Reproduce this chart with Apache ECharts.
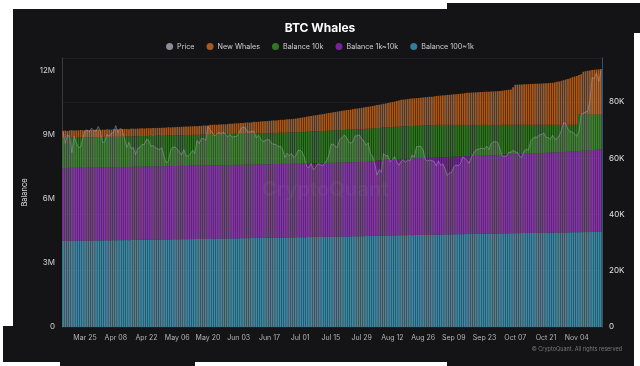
<!DOCTYPE html>
<html><head><meta charset="utf-8">
<script src="https://cdn.jsdelivr.net/npm/echarts/dist/echarts.min.js"></script>
<style>
html,body{margin:0;padding:0;background:#fff;width:640px;height:366px;overflow:hidden;position:relative}
.bg{position:absolute;background:#141416}
#c{position:absolute;left:0;top:0;width:640px;height:366px}
</style></head><body>
<div class="bg" style="left:13px;top:9px;width:621px;height:353px"></div>
<div class="bg" style="left:447px;top:3px;width:193px;height:30px"></div>
<div class="bg" style="left:3px;top:326px;width:192px;height:36px"></div>
<div class="bg" style="left:60px;top:360px;width:135px;height:6px"></div>
<div class="bg" style="left:447px;top:360px;width:187px;height:6px"></div>
<div id="c"></div>
<script>
// Daily categories: 2024-03-15 .. 2024-11-15
const startDate = Date.UTC(2024, 2, 15);
const dayCount = 246;
const monthNames = ['Jan','Feb','Mar','Apr','May','Jun','Jul','Aug','Sep','Oct','Nov','Dec'];
const dates = [];
for (let i = 0; i < dayCount; i++) {
  const d = new Date(startDate + i * 86400000);
  dates.push(monthNames[d.getUTCMonth()] + ' ' + String(d.getUTCDate()).padStart(2, '0'));
}
const legendNames = ['Price', 'New Whales', 'Balance 10k', 'Balance 1k~10k', 'Balance 100~1k'];
const leftTicks = ['0', '3M', '6M', '9M', '12M'];
const rightTicks = ['0', '20K', '40K', '60K', '80K'];

// values in thousand BTC
const bal100to1k = [
4030,4032,4028,4035,4040,4038,4036,4042,4045,4043,4040,4046,4050,4048,4052,4055,4053,
4050,4055,4058,4060,4057,4062,4065,4063,4060,4066,4068,4070,4072,4069,4074,4078,4080,4077,4082,4085,4083,4086,4088,4090,4087,4092,4094,4096,4093,4098,
4100,4104,4102,4106,4108,4105,4110,4112,4114,4110,4116,4118,4120,4117,4122,4125,4123,4128,4130,4127,4132,4135,4133,4138,4140,4137,4142,4145,4143,4148,4150,
4152,4150,4155,4158,4156,4160,4162,4160,4165,4168,4166,4170,4172,4170,4175,4178,4176,4180,4183,4181,4185,4188,4186,4190,4193,4190,4195,4198,4196,4200,
4202,4205,4203,4208,4212,4210,4215,4218,4216,4220,4224,4222,4226,4230,4228,4232,4235,4233,4238,4240,4238,4242,4245,4243,4248,4250,4248,4252,4255,4253,4258,
4260,4263,4268,4272,4280,4278,4282,4285,4283,4288,4290,4288,4292,4295,4293,4298,4300,4298,4302,4305,4303,4308,4310,4308,4312,4315,4313,4318,4320,4318,4322,
4325,4328,4326,4330,4335,4340,4338,4342,4345,4343,4348,4350,4348,4352,4355,4353,4358,4360,4358,4362,4365,4363,4368,4370,4368,4372,4375,4373,4378,4380,
4382,4385,4383,4388,4390,4388,4392,4395,4393,4398,4400,4398,4402,4405,4403,4408,4410,4408,4412,4415,4413,4418,4420,4418,4422,4425,4423,4428,4430,4428,4432,
4435,4438,4436,4440,4442,4440,4445,4448,4446,4450,4452,4450,4455,4458,4460];
const bal1kto10k = [
3420,3418,3422,3420,3419,3423,3421,3420,3424,3422,3421,3425,3423,3422,3426,3424,3423,
3422,3425,3424,3423,3426,3425,3424,3427,3426,3425,3428,3427,3426,3429,3428,3427,3430,3429,3428,3431,3430,3429,3432,3431,3430,3433,3432,3431,3434,3433,
3432,3435,3434,3433,3436,3435,3434,3437,3436,3435,3438,3437,3436,3439,3438,3437,3440,3439,3438,3441,3440,3439,3442,3441,3440,3443,3442,3441,3444,3443,3442,
3445,3444,3443,3446,3445,3444,3447,3446,3445,3448,3447,3446,3449,3448,3447,3450,3449,3448,3451,3450,3449,3452,3451,3450,3453,3452,3451,3454,3453,3452,
3455,3454,3453,3456,3455,3454,3457,3456,3455,3458,3457,3456,3459,3458,3460,3462,3461,3463,3465,3464,3466,3468,3467,3469,3471,3470,3472,3474,3473,3475,3477,
3480,3485,3490,3500,3510,3520,3530,3540,3548,3555,3560,3565,3570,3572,3575,3578,3580,3582,3585,3587,3590,3592,3594,3596,3598,3600,3602,3604,3606,3608,3610,
3612,3614,3616,3618,3620,3622,3625,3628,3630,3632,3635,3638,3640,3642,3645,3648,3650,3652,3655,3658,3660,3662,3665,3668,3670,3672,3675,3678,3680,3682,
3685,3688,3690,3693,3696,3699,3702,3705,3708,3711,3714,3717,3720,3723,3726,3729,3732,3735,3738,3741,3744,3747,3750,3753,3756,3759,3762,3765,3768,3771,3774,
3780,3786,3792,3798,3804,3810,3816,3822,3828,3834,3840,3846,3852,3858,3864];
const bal10k = [
1410,1415,1408,1412,1418,1414,1410,1416,1420,1415,1412,1418,1422,1417,1414,1420,1424,
1420,1416,1422,1426,1421,1418,1424,1428,1423,1420,1426,1430,1425,1422,1428,1432,1427,1424,1430,1434,1429,1426,1432,1436,1431,1428,1434,1438,1433,1430,
1436,1440,1435,1432,1438,1442,1437,1434,1440,1444,1439,1436,1442,1446,1441,1438,1444,1448,1443,1440,1446,1450,1445,1442,1448,1452,1447,1444,1450,1454,1449,
1452,1456,1451,1448,1454,1458,1453,1450,1456,1460,1455,1452,1458,1462,1457,1454,1460,1464,1459,1456,1462,1466,1461,1458,1464,1468,1463,1460,1466,1470,
1468,1472,1476,1480,1484,1488,1486,1490,1494,1498,1496,1500,1504,1508,1506,1510,1514,1518,1516,1520,1524,1528,1526,1530,1534,1538,1536,1540,1544,1548,1546,
1546,1542,1538,1532,1526,1520,1515,1512,1510,1510,1511,1512,1513,1514,1515,1516,1517,1518,1518,1519,1520,1520,1521,1522,1522,1523,1524,1524,1525,1525,1526,
1530,1526,1524,1520,1514,1506,1502,1496,1492,1488,1483,1478,1476,1472,1466,1462,1458,1454,1450,1446,1441,1438,1433,1428,1426,1422,1416,1413,1408,1404,
1403,1398,1396,1390,1386,1382,1377,1372,1368,1362,1358,1354,1349,1344,1340,1334,1330,1326,1321,1316,1312,1306,1302,1298,1293,1288,1284,1278,1274,1270,1264,
1255,1246,1242,1232,1704,1700,1689,1680,1676,1666,1658,1654,1643,1634,1626];
const newWhales = [
330,338,325,342,335,328,345,332,340,336,330,348,338,344,335,350,340,
342,350,338,355,346,340,358,348,352,345,360,350,356,348,362,354,350,366,356,360,352,368,360,356,372,362,366,358,375,369,
372,380,376,385,380,390,386,395,392,400,396,405,402,410,408,418,414,425,422,432,452,446,455,450,460,456,466,462,470,475,479,
485,490,496,500,506,512,516,522,528,534,538,545,550,556,562,566,572,578,584,588,594,600,606,612,618,624,630,640,648,658,
670,682,695,708,720,732,744,756,768,780,792,804,816,828,840,852,864,876,888,900,910,920,928,940,950,962,974,986,998,1008,1019,
1030,1042,1055,1068,1080,1092,1105,1118,1130,1142,1155,1168,1180,1205,1228,1248,1255,1262,1270,1278,1285,1292,1298,1305,1310,1316,1322,1328,1333,1338,1342,
1352,1362,1372,1382,1392,1402,1412,1422,1432,1442,1452,1462,1474,1486,1504,1510,1516,1522,1528,1534,1540,1546,1550,1555,1560,1565,1570,1575,1580,1584,
1600,1615,1630,1640,1650,1760,1875,1880,1885,1890,1895,1900,1905,1910,1915,1920,1925,1930,1935,1940,1945,1950,1960,1970,1990,2010,2030,2060,2090,2120,2150,
2180,2230,2260,2290,1850,1890,2005,2030,2050,2070,2090,2100,2110,2120,2130];
// BTC price in thousand USD
const price = [
69.5,65.3,68.4,67.6,62.0,67.8,65.5,63.8,64.0,67.2,70.0,69.9,69.4,70.7,69.9,69.6,71.3,
69.6,65.5,65.9,68.5,67.8,68.9,69.3,71.6,69.1,70.6,70.0,67.1,63.8,65.7,63.4,63.8,61.3,63.5,63.8,64.9,64.9,66.8,66.4,64.3,64.5,63.8,63.4,63.1,63.8,60.6,
58.3,59.1,62.9,63.9,64.0,63.2,62.3,61.2,63.1,60.8,60.8,61.5,62.9,61.6,66.3,65.2,67.0,67.0,66.3,71.4,70.1,69.1,67.9,68.5,69.3,68.5,69.4,68.3,67.6,68.4,67.5,
67.7,67.8,68.8,70.6,71.1,70.8,69.4,69.3,69.6,69.5,67.3,68.2,66.8,66.0,66.2,66.7,66.5,65.2,65.0,64.9,64.1,64.3,63.2,60.3,61.8,60.9,61.7,60.3,60.9,62.7,
62.9,62.1,60.2,57.0,56.6,58.2,55.9,56.7,58.0,57.8,57.3,57.9,59.2,60.8,64.8,65.1,64.1,63.9,66.7,67.2,68.2,67.6,65.9,65.4,65.8,67.9,68.0,68.3,66.8,66.2,64.6,
65.4,61.5,60.7,58.1,54.0,56.0,55.0,61.7,60.9,60.9,58.7,59.4,60.6,58.7,57.5,58.9,59.5,58.5,59.5,59.0,61.2,60.4,64.1,64.2,64.2,62.9,59.5,59.0,59.4,59.1,58.9,
57.3,59.1,57.5,58.0,56.2,53.9,54.8,54.9,57.0,57.6,57.3,58.1,60.5,60.0,59.2,58.2,60.3,61.8,62.9,63.2,63.4,63.6,63.3,64.3,63.1,65.2,65.8,65.9,65.6,63.3,
60.8,60.6,60.8,62.1,62.1,62.8,62.2,62.1,60.6,60.3,62.5,63.2,62.9,66.1,67.0,67.6,67.4,68.4,68.4,69.0,67.4,67.4,66.7,68.2,66.7,67.0,67.9,69.9,72.7,72.3,70.2,
69.5,69.3,68.7,67.8,69.4,75.6,76.0,76.5,76.7,80.5,88.7,88.3,90.4,87.3,91.1];

const colors = {
  price: '#8c8c9c', whales: '#c26a2a', b10k: '#3a8a2c', b1k: '#8a2cb0', b100: '#3a93b6'
};
const chart = echarts.init(document.getElementById('c'), null, {renderer: 'canvas'});
const barCommon = {type: 'bar', stack: 'bal', barCategoryGap: '22%', itemStyle: {opacity: 0.82}, emphasis: {disabled: true}};
chart.setOption({
  backgroundColor: 'transparent',
  animation: false,
  textStyle: {fontFamily: 'Inter, Roboto, sans-serif'},
  title: {text: 'BTC Whales', left: 'center', top: 17, textStyle: {color: '#fff', fontSize: 12, fontWeight: 'bold', fontFamily: 'Inter, Roboto, sans-serif'}},
  legend: {
    data: legendNames, top: 38, left: 'center', icon: 'circle', itemWidth: 7, itemHeight: 7, itemGap: 12,
    textStyle: {color: '#cfcfcf', fontSize: 7.2, padding: [0, 0, 0, -1]}
  },
  grid: {left: 62, right: 38, top: 58, bottom: 39},
  xAxis: {
    type: 'category', data: dates, boundaryGap: true,
    axisLine: {show: false}, axisTick: {show: false},
    axisLabel: {color: '#b5b5b5', fontSize: 7, margin: 7,
      interval: (i) => i >= 10 && (i - 10) % 14 === 0}
  },
  yAxis: [{
    type: 'value', min: 0, max: 12600, interval: 3000, position: 'left',
    name: 'Balance', nameLocation: 'middle', nameGap: 29, nameRotate: 90,
    nameTextStyle: {color: '#e0e0e0', fontSize: 7.5},
    axisLine: {show: true, lineStyle: {color: '#3a3a3e'}}, axisTick: {show: false},
    splitLine: {show: false},
    axisLabel: {color: '#d0d0d0', fontSize: 8, margin: 7,
      formatter: (v) => { const k = Math.round(v / 3000); return (v % 3000 === 0 && k < leftTicks.length) ? leftTicks[k] : ''; }}
  }, {
    type: 'value', min: 0, max: 95640, interval: 20000, position: 'right',
    axisLine: {show: true, lineStyle: {color: '#3e5060'}}, axisTick: {show: false},
    splitLine: {show: true, lineStyle: {color: '#1e1e22'}},
    axisLabel: {color: '#e0e0e0', fontSize: 8, margin: 7,
      formatter: (v) => { const k = Math.round(v / 20000); return (v % 20000 === 0 && k < rightTicks.length) ? rightTicks[k] : ''; }}
  }],
  graphic: [
    {type: 'text', left: 262, top: 180, z: 100, style: {text: 'CryptoQuant', fill: 'rgba(255,255,255,0.045)', font: 'bold 20px Inter, Roboto, sans-serif'}},
    {type: 'text', right: 18, top: 346, style: {text: '© CryptoQuant. All rights reserved', fill: '#7a7a7a', font: '5.5px Inter, Roboto, sans-serif'}}
  ],
  series: [
    Object.assign({name: 'Balance 100~1k', data: bal100to1k, color: colors.b100}, barCommon),
    Object.assign({name: 'Balance 1k~10k', data: bal1kto10k, color: colors.b1k}, barCommon),
    Object.assign({name: 'Balance 10k', data: bal10k, color: colors.b10k}, barCommon),
    Object.assign({name: 'New Whales', data: newWhales, color: colors.whales}, barCommon),
    {name: 'Price', type: 'line', yAxisIndex: 1, data: price.map(v => v * 1000), color: colors.price,
      showSymbol: false, symbol: 'none', z: 5, lineStyle: {width: 0.8, color: 'rgba(175,175,190,0.55)'},
      areaStyle: {color: 'rgba(255,255,255,0.13)'}, emphasis: {disabled: true}}
  ]
});
</script>
</body></html>
